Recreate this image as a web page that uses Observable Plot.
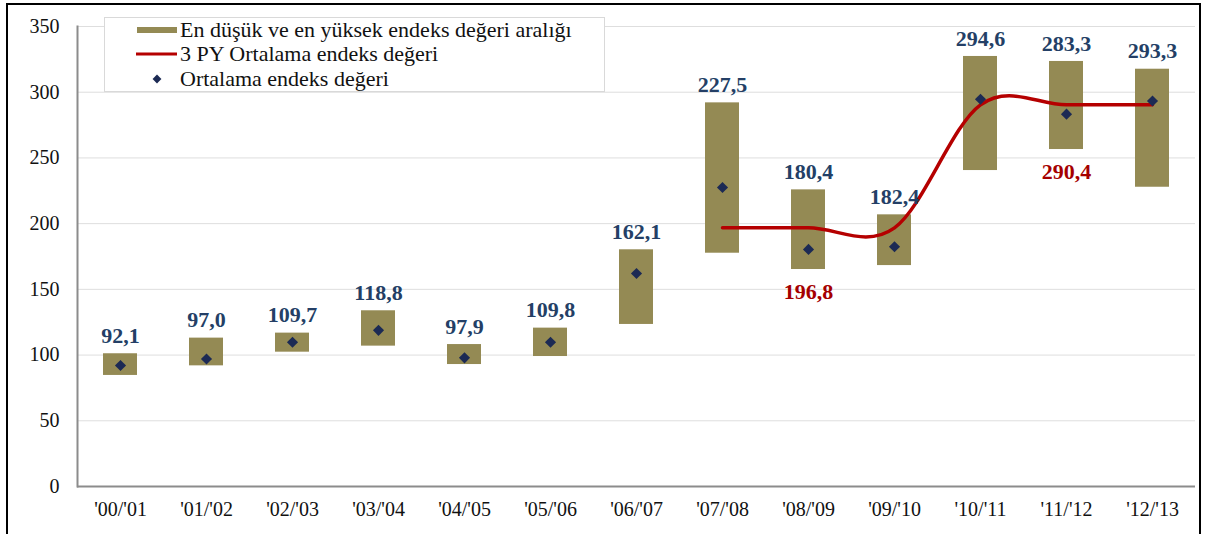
<!DOCTYPE html>
<html>
<head>
<meta charset="utf-8">
<script src="https://cdn.jsdelivr.net/npm/d3@7"></script>
<script src="https://cdn.jsdelivr.net/npm/@observablehq/plot@0.6"></script>
<style>
  html, body { margin: 0; padding: 0; background: #fff; overflow: hidden; }
  #wrap { position: relative; width: 1205px; height: 534px; font-family: "Liberation Serif", serif; }
  #chart { position: absolute; left: 0; top: 0; }
  #frame { position: absolute; left: 6px; top: 3px; width: 1195px; height: 600px; border: 2.5px solid #000; box-sizing: border-box; pointer-events: none; }
  #legend { position: absolute; left: 104px; top: 17px; width: 501px; height: 75px; box-sizing: border-box;
            border: 1px solid #d9d9d9; background: #fff; font-size: 22px; color: #111; }
  .row { position: absolute; left: 30px; height: 24px; display: flex; align-items: center; white-space: nowrap; }
  .row svg { width: 44px; height: 24px; margin-right: 1px; }
</style>
</head>
<body>
<div id="wrap">
  <div id="chart"></div>
  <div id="legend"></div>
  <div id="frame"></div>
</div>
<script>
// ---- data ----
const categories = ["'00/'01","'01/'02","'02/'03","'03/'04","'04/'05","'05/'06","'06/'07","'07/'08","'08/'09","'09/'10","'10/'11","'11/'12","'12/'13"];
const lowValues  = [84.5, 91.8, 102.2, 106.8, 92.8, 98.9, 123.3, 177.5, 165.1, 168.1, 240.4, 256.4, 227.7];
const highValues = [101.0, 112.9, 116.7, 133.7, 108.0, 120.5, 180.1, 291.9, 225.7, 206.7, 327.2, 323.4, 317.5];
const avgValues  = [92.1, 97.0, 109.7, 118.8, 97.9, 109.8, 162.1, 227.5, 180.4, 182.4, 294.6, 283.3, 293.3];
const py3Categories = ["'07/'08","'08/'09","'09/'10","'10/'11","'11/'12","'12/'13"];
const py3Values     = [196.8, 196.8, 196.8, 290.4, 290.4, 290.4];
const py3LabelCategories = ["'08/'09", "'11/'12"];
const py3LabelValues     = [196.8, 290.4];
const yTicks = [0, 50, 100, 150, 200, 250, 300, 350];
const legendLabels = ["En düşük ve en yüksek endeks değeri aralığı", "3 PY Ortalama endeks değeri", "Ortalama endeks değeri"];

// ---- tables ----
const rows = categories.map((c, i) => ({cat: c, low: lowValues[i], high: highValues[i], avg: avgValues[i]}));
const py3 = py3Categories.map((c, i) => ({cat: c, value: py3Values[i]}));
const py3Labels = py3LabelCategories.map((c, i) => ({cat: c, value: py3LabelValues[i], low: lowValues[categories.indexOf(c)]}));
const fmt = v => d3.format(".1f")(v).replace(".", ",");

const BAR = "#948A54", LINE = "#B50000", DIAMOND = "#1C2A54", BLUE = "#243F66", RED = "#A50000", AXIS = "#8c8c8c";

const chart = Plot.plot({
  width: 1205,
  height: 534,
  marginLeft: 77,
  marginRight: 10,
  marginTop: 26,
  marginBottom: 48,
  style: {fontFamily: "'Liberation Serif', serif", fontSize: "20px", color: "#111", background: "transparent"},
  x: {domain: categories, paddingInner: 0.6, paddingOuter: 0.3, label: null},
  y: {domain: [0, 350], label: null},
  marks: [
    Plot.gridY(yTicks, {stroke: "#dedede", strokeOpacity: 1}),
    Plot.barY(rows, {x: "cat", y1: "low", y2: "high", fill: BAR}),
    Plot.ruleY([0], {stroke: AXIS, strokeWidth: 2}),
    Plot.frame({anchor: "left", stroke: AXIS, strokeWidth: 2}),
    Plot.line(py3, {x: "cat", y: "value", curve: "cardinal", stroke: LINE, strokeWidth: 3.5}),
    Plot.dot(rows, {x: "cat", y: "avg", symbol: "diamond2", r: 5, fill: DIAMOND, stroke: null}),
    Plot.text(rows, {x: "cat", y: "high", text: d => fmt(d.avg), dy: -18, fontWeight: "bold", fontSize: 22, fill: BLUE}),
    Plot.text(py3Labels, {x: "cat", y: "low", text: d => fmt(d.value), dy: 22, fontWeight: "bold", fontSize: 22, fill: RED}),
    Plot.axisX({tickSize: 0, tickPadding: 15, label: null}),
    Plot.axisY({ticks: yTicks, tickSize: 0, tickPadding: 18, label: null})
  ]
});
document.getElementById("chart").appendChild(chart);

// ---- legend ----
const legend = d3.select("#legend");
const swatches = [
  svg => svg.append("rect").attr("x", 2).attr("y", 9).attr("width", 40).attr("height", 6).attr("fill", BAR),
  svg => svg.append("line").attr("x1", 1).attr("x2", 42).attr("y1", 12).attr("y2", 12).attr("stroke", LINE).attr("stroke-width", 3),
  svg => svg.append("path").attr("d", d3.symbol(d3.symbolDiamond2, 50)()).attr("transform", "translate(22,12)").attr("fill", DIAMOND)
];
const rowTops = [0, 24, 49];
legendLabels.forEach((label, i) => {
  const row = legend.append("div").attr("class", "row").style("top", rowTops[i] + "px");
  const svg = row.append("svg");
  swatches[i](svg);
  row.append("span").text(label);
});
</script>
</body>
</html>
